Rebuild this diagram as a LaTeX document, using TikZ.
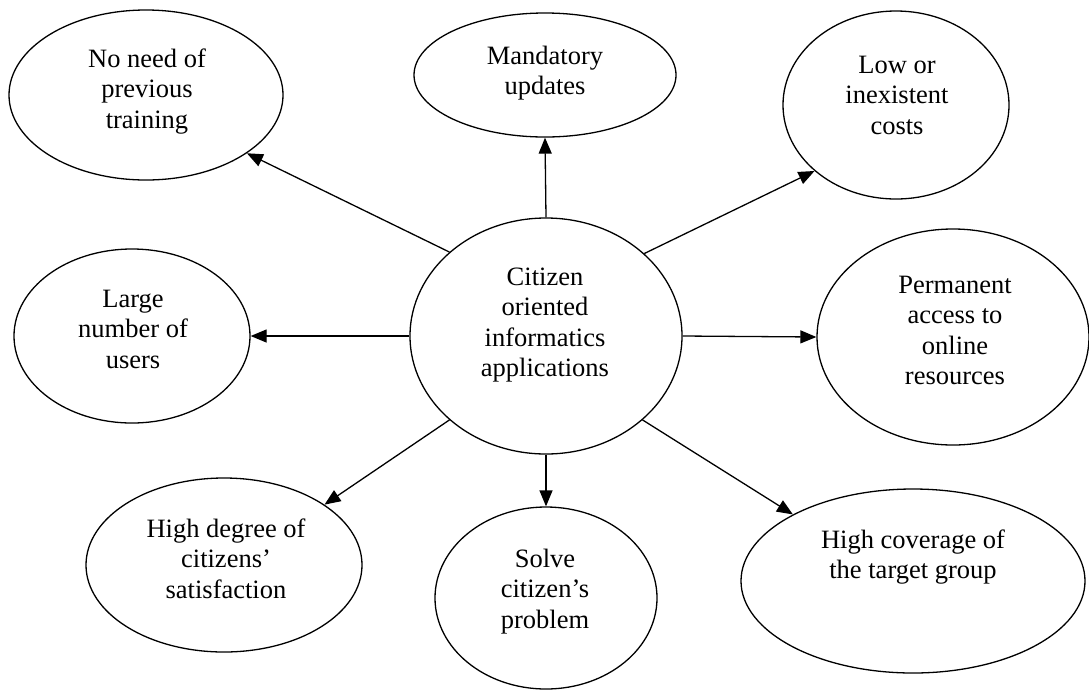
\documentclass[tikz,border=0pt]{standalone}
\usepackage{fontspec}
\setmainfont{Liberation Serif}
\usetikzlibrary{shapes.geometric,arrows.meta}
\tikzset{
  oval/.style={draw=black, line width=1.3pt, ellipse, inner sep=0pt},
  lbl/.style={anchor=base, inner sep=0pt, font=\fontsize{26.5}{30.5}\selectfont},
  arr/.style={line width=1.3pt, -{Triangle[length=16pt,width=13pt]}}
}
\newcommand{\ltxt}[1]{\begin{tabular}[t]{@{}c@{}}#1\end{tabular}}
\begin{document}
\begin{tikzpicture}[x=1pt,y=-1pt]
\useasboundingbox (0,0) rectangle (1089,689);
% ellipses
\node[oval, minimum width=274pt, minimum height=170pt] (TL) at (146,95) {};
\node[oval, minimum width=262pt, minimum height=124pt] (T) at (545,75) {};
\node[oval, minimum width=226pt, minimum height=188pt] (TR) at (896,105) {};
\node[oval, minimum width=236pt, minimum height=174pt] (L) at (132,336) {};
\node[oval, minimum width=272pt, minimum height=236pt] (C) at (546,336) {};
\node[oval, minimum width=272pt, minimum height=216pt] (R) at (953,337) {};
\node[oval, minimum width=276pt, minimum height=174pt] (BL) at (224,565) {};
\node[oval, minimum width=222pt, minimum height=182pt] (B) at (546,598) {};
\node[oval, minimum width=344pt, minimum height=184pt] (BR) at (913,581) {};
% texts
\node[lbl] (tTL) at (147,67) {\ltxt{No need of\\previous\\training}};
\node[lbl] (tT) at (545,64) {\ltxt{Mandatory\\updates}};
\node[lbl] (tTR) at (897,73) {\ltxt{Low or\\inexistent\\costs}};
\node[lbl] (tL) at (133,307) {\ltxt{Large\\number of\\users}};
\node[lbl] (tC) at (545,285) {\ltxt{Citizen\\oriented\\informatics\\applications}};
\node[lbl] (tR) at (955,293) {\ltxt{Permanent\\access to\\online\\resources}};
\node[lbl] (tBL) at (226,537) {\ltxt{High degree of\\citizens’\\satisfaction}};
\node[lbl] (tB) at (545,567) {\ltxt{Solve\\citizen’s\\problem}};
\node[lbl] (tBR) at (913,548) {\ltxt{High coverage of\\the target group}};
% arrows
\draw[arr] (C.139.7) -- (TL.-30.8);
\draw[arr] (C.90) -- (T.270);
\draw[arr] (C.40.8) -- (TR.219.7);
\draw[arr] (C.180) -- (L.0);
\draw[arr] (C.0) -- (R.180);
\draw[arr] (C.221.3) -- (BL.31.5);
\draw[arr] (C.270) -- (B.90);
\draw[arr] (C.-41.1) -- (BR.151.8);
\end{tikzpicture}
\end{document}
